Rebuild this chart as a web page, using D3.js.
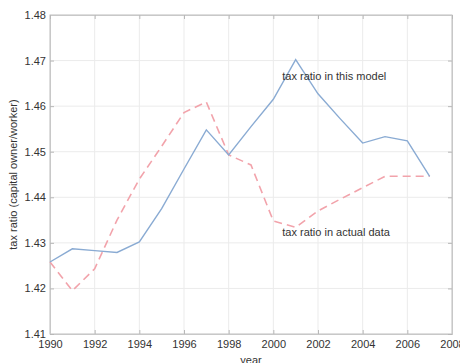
<!DOCTYPE html>
<html>
<head>
<meta charset="utf-8">
<script src="https://cdn.jsdelivr.net/npm/d3@7"></script>
<style>
  body { margin: 0; background: #fff; }
  text { font-family: "Liberation Sans", Arial, sans-serif; fill: #333; }
</style>
</head>
<body>
<div class="main-container"></div>
<script>
const years = d3.range(1990, 2008);
const modelRatio = [1.4258, 1.4287, 1.4283, 1.4279, 1.4302, 1.4375, 1.4462, 1.4548, 1.4493,
  1.4555, 1.4615, 1.4702, 1.4627, 1.4572, 1.4519, 1.4533, 1.4524, 1.4446];
const actualRatio = [1.4258, 1.4195, 1.4243, 1.4350, 1.4440, 1.4512, 1.4586, 1.4609, 1.4493,
  1.4471, 1.4348, 1.4334, 1.4370, 1.4396, 1.4421, 1.4446, 1.4446, 1.4446];
const xTicks = d3.range(1990, 2009, 2);
const yTicks = [1.41, 1.42, 1.43, 1.44, 1.45, 1.46, 1.47, 1.48];
const labelModel = "tax ratio in this model";
const labelActual = "tax ratio in actual data";

let margin = {top: 15, right: 8, bottom: 29, left: 50},
  width = 460,
  height = 363;

const svg = d3.select(".main-container")
  .append("svg")
  .attr("width", width)
  .attr("height", height);

const iw = width - margin.left - margin.right,
  ih = height - margin.top - margin.bottom;

const g = svg.append("g")
  .attr("transform", "translate(" + margin.left + "," + margin.top + ")");

let x = d3.scaleLinear().domain([1990, 2008]).range([0, iw]);
let y = d3.scaleLinear().domain([1.41, 1.48]).range([ih, 0]);

// grid
g.append("g").selectAll("line").data(xTicks).join("line")
  .attr("x1", d => x(d)).attr("x2", d => x(d))
  .attr("y1", 0).attr("y2", ih)
  .attr("stroke", "#ebebeb").attr("stroke-width", 1);
g.append("g").selectAll("line").data(yTicks).join("line")
  .attr("y1", d => y(d)).attr("y2", d => y(d))
  .attr("x1", 0).attr("x2", iw)
  .attr("stroke", "#ebebeb").attr("stroke-width", 1);

// box
g.append("rect")
  .attr("width", iw).attr("height", ih)
  .attr("fill", "none").attr("stroke", "#c8c8c8");

const xAxis = g.append("g")
  .attr("transform", "translate(0," + ih + ")")
  .call(d3.axisBottom(x).tickValues(xTicks).tickFormat(d3.format("d")).tickSize(-4).tickPadding(6));
const yAxis = g.append("g")
  .call(d3.axisLeft(y).tickValues(yTicks).tickFormat(d3.format(".2f")).tickSize(-4).tickPadding(4));
g.append("g")
  .attr("transform", "translate(" + iw + ",0)")
  .call(d3.axisRight(y).tickValues(yTicks).tickFormat("").tickSize(-4));
g.append("g")
  .call(d3.axisTop(x).tickValues(xTicks).tickFormat("").tickSize(-4));

g.selectAll(".domain").attr("stroke", "#c8c8c8");
g.selectAll(".tick line").attr("stroke", "#b8b8b8");
g.selectAll(".tick text")
  .style("font-family", "'Liberation Sans', Arial, sans-serif")
  .style("font-size", "11px")
  .attr("fill", "#444");

// lines
const line = d3.line()
  .x((d, i) => x(years[i]))
  .y(d => y(d));

g.append("path")
  .datum(actualRatio)
  .attr("fill", "none")
  .attr("stroke", "#f2a3ab")
  .attr("stroke-width", 1.6)
  .attr("stroke-dasharray", "8,5")
  .attr("d", line);

g.append("path")
  .datum(modelRatio)
  .attr("fill", "none")
  .attr("stroke", "#8aabd3")
  .attr("stroke-width", 1.4)
  .attr("d", line);

// annotations
g.append("text")
  .attr("x", x(2000.4)).attr("y", y(1.4666))
  .attr("dy", "0.35em")
  .style("font-size", "11px")
  .text(labelModel);
g.append("text")
  .attr("x", x(2000.4)).attr("y", y(1.4324))
  .attr("dy", "0.35em")
  .style("font-size", "11px")
  .text(labelActual);

// axis titles
svg.append("text")
  .attr("x", margin.left + iw / 2)
  .attr("y", 364)
  .attr("text-anchor", "middle")
  .style("font-size", "11px")
  .text("year");
svg.append("text")
  .attr("transform", "translate(17," + (margin.top + ih / 2) + ") rotate(-90)")
  .attr("text-anchor", "middle")
  .style("font-size", "11px")
  .text("tax ratio (capital owner/worker)");
</script>
</body>
</html>
